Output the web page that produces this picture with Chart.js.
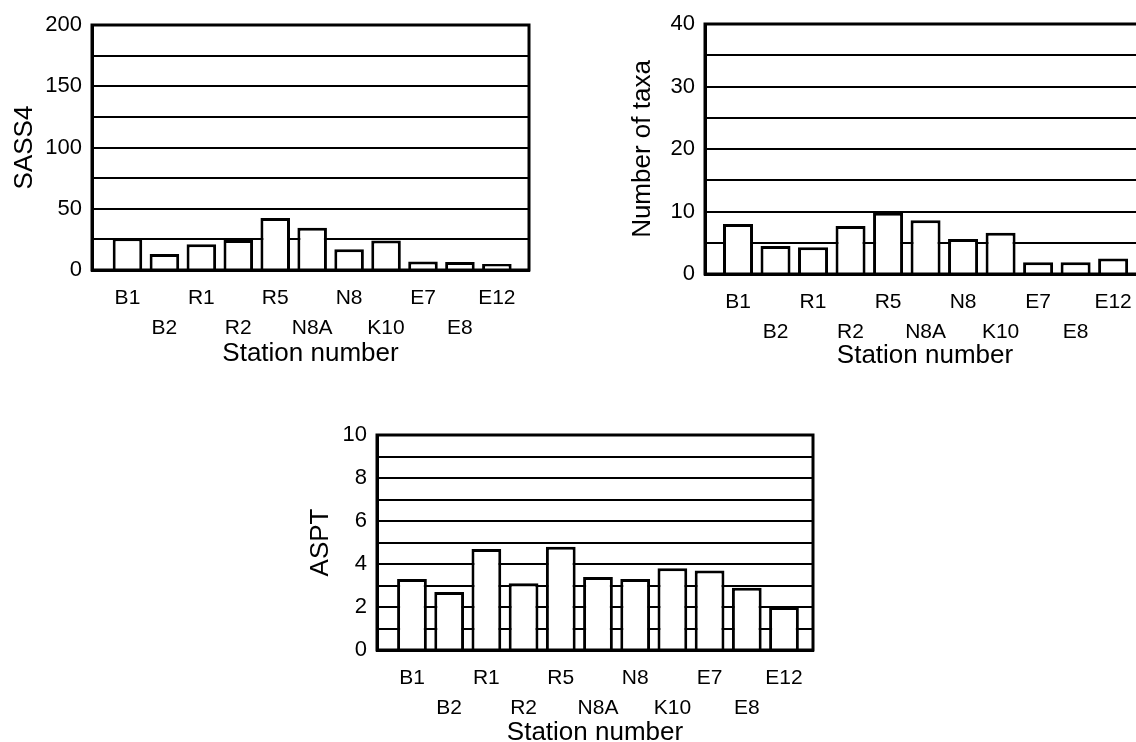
<!DOCTYPE html>
<html>
<head>
<meta charset="utf-8">
<script src="https://cdn.jsdelivr.net/npm/chart.js@4.4.1/dist/chart.umd.min.js"></script>
<style>
  html, body { margin: 0; padding: 0; background: #fff; width: 1136px; height: 742px; overflow: hidden; position: relative; }
  canvas { position: absolute; }
</style>
</head>
<body>
<canvas id="sassChart" width="545" height="380" style="left:0;top:0"></canvas>
<canvas id="taxaChart" width="600" height="380" style="left:580px;top:0"></canvas>
<canvas id="asptChart" width="560" height="360" style="left:280px;top:400px"></canvas>
<script>
// Sampling stations, in survey order
const stations = ['B1', 'B2', 'R1', 'R2', 'R5', 'N8A', 'N8', 'K10', 'E7', 'E8', 'E12'];

// Biotic index results per station
const sass4Scores = [26, 13, 21, 24.5, 42.5, 34.5, 17, 24, 7, 6.5, 5];
const taxaCounts = [8, 4.5, 4.3, 7.7, 9.8, 8.6, 5.6, 6.6, 1.9, 1.9, 2.5];
const asptScores = [3.3, 2.7, 4.7, 3.1, 4.8, 3.4, 3.3, 3.8, 3.7, 2.9, 2.0];

Chart.defaults.font.family = '"Liberation Sans", Arial, Helvetica, sans-serif';
Chart.defaults.color = '#000';

// black box round the plot area
const frameBox = {
    id: 'frameBox',
    afterDraw: function(chart) {
        const a = chart.chartArea;
        const ctx = chart.ctx;
        ctx.save();
        ctx.strokeStyle = '#000';
        ctx.lineWidth = 3;
        ctx.strokeRect(a.left, a.top, a.right - a.left, a.bottom - a.top);
        ctx.restore();
    }
};

function createStationChart(canvasId, values, cfg) {
    const ctx = document.getElementById(canvasId).getContext('2d');

    return new Chart(ctx, {
        type: 'bar',
        data: {
            datasets: [{
                data: values.map((v, i) => ({ x: i + 1, y: v })),
                backgroundColor: '#fff',
                borderColor: '#000',
                borderWidth: 3,
                barPercentage: 0.8,
                categoryPercentage: 1
            }]
        },
        options: {
            responsive: false,
            animation: false,
            layout: { padding: cfg.padding },
            plugins: {
                legend: { display: false },
                tooltip: { enabled: false }
            },
            scales: {
                x: {
                    type: 'linear',
                    min: cfg.xMin,
                    max: cfg.xMax,
                    offset: false,
                    grid: { display: false, drawTicks: false },
                    border: { display: true, color: '#000', width: 3 },
                    afterBuildTicks: function(scale) {
                        scale.ticks = stations.map((s, i) => ({ value: i + 1 }));
                    },
                    afterFit: function(scale) {
                        scale.height = cfg.xHeight;
                    },
                    ticks: {
                        autoSkip: false,
                        maxRotation: 0,
                        minRotation: 0,
                        padding: 14,
                        color: '#000',
                        font: { size: 21, lineHeight: 1.4 },
                        // every second station sits on a lower row
                        callback: (value, index) => index % 2 ? ['', stations[index]] : stations[index]
                    },
                    title: {
                        display: true,
                        text: 'Station number',
                        color: '#000',
                        font: { size: 26 },
                        padding: 0
                    }
                },
                y: {
                    min: 0,
                    max: cfg.yMax,
                    grid: { color: '#000', lineWidth: 2, drawTicks: false },
                    border: { display: true, color: '#000', width: 3 },
                    afterFit: function(scale) {
                        scale.width = cfg.yWidth;
                    },
                    ticks: {
                        stepSize: cfg.yStep,
                        autoSkip: false,
                        padding: 10,
                        color: '#000',
                        font: { size: 22 },
                        callback: v => v % cfg.yLabelStep === 0 ? v : ''
                    },
                    title: {
                        display: true,
                        text: cfg.yTitle,
                        color: '#000',
                        font: { size: 26 },
                        padding: 0
                    }
                }
            }
        },
        plugins: [frameBox]
    });
}

createStationChart('sassChart', sass4Scores, {
    yTitle: 'SASS4', yMax: 200, yStep: 25, yLabelStep: 50,
    xMin: 0.04, xMax: 11.87,
    padding: { left: 9, top: 25, right: 16, bottom: 11 },
    yWidth: 83, xHeight: 99
});

createStationChart('taxaChart', taxaCounts, {
    yTitle: 'Number of taxa', yMax: 40, yStep: 5, yLabelStep: 10,
    xMin: 0.12, xMax: 11.85,
    padding: { left: 47, top: 24, right: 35, bottom: 9 },
    yWidth: 78, xHeight: 97
});

createStationChart('asptChart', asptScores, {
    yTitle: 'ASPT', yMax: 10, yStep: 1, yLabelStep: 2,
    xMin: 0.06, xMax: 11.78,
    padding: { left: 25, top: 35, right: 27, bottom: 12 },
    yWidth: 72, xHeight: 98
});
</script>
</body>
</html>
